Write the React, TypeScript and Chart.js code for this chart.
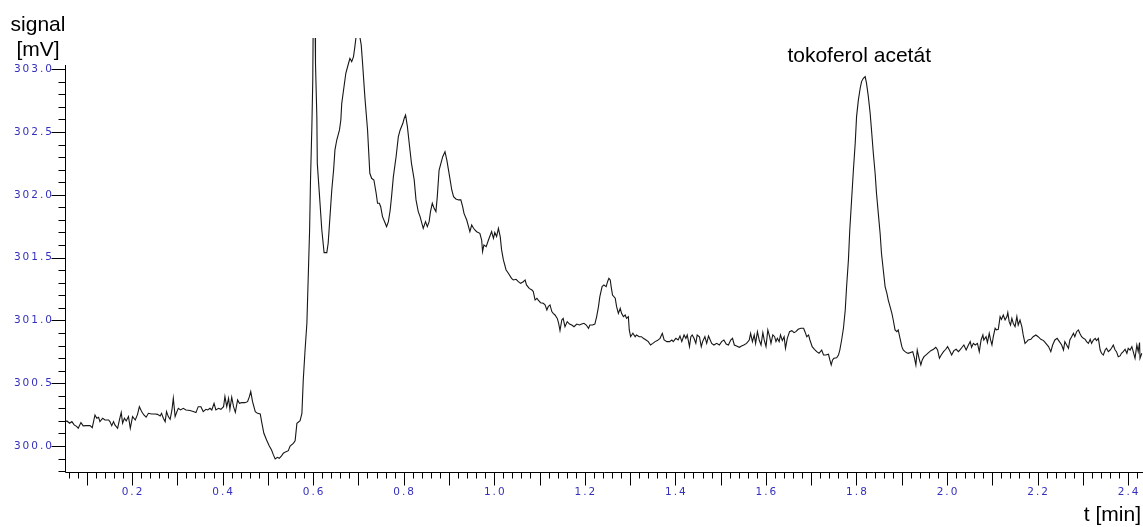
import React, { useEffect, useRef } from "react";
import { Chart, registerables } from "chart.js";

Chart.register(...registerables);

// Retention time [min] / detector signal [mV], one trace split into sections.
const baselineTrace: [number, number][] = [
  [0.050, 300.194], [0.054, 300.199], [0.060, 300.181], [0.065, 300.194], [0.070, 300.168],
  [0.076, 300.154], [0.079, 300.141], [0.085, 300.186], [0.090, 300.160], [0.096, 300.162],
  [0.105, 300.162], [0.110, 300.146], [0.116, 300.247], [0.120, 300.221], [0.124, 300.229],
  [0.127, 300.194], [0.133, 300.221], [0.138, 300.207], [0.146, 300.207], [0.149, 300.194],
  [0.153, 300.162], [0.157, 300.194], [0.160, 300.168], [0.166, 300.141], [0.170, 300.207],
  [0.174, 300.266], [0.177, 300.181], [0.181, 300.221], [0.185, 300.199], [0.190, 300.234],
  [0.194, 300.141], [0.199, 300.234], [0.205, 300.207], [0.210, 300.252], [0.214, 300.313],
  [0.219, 300.274], [0.224, 300.247], [0.229, 300.229], [0.234, 300.260], [0.241, 300.255],
  [0.249, 300.255], [0.254, 300.252], [0.260, 300.239], [0.263, 300.260], [0.267, 300.221],
  [0.271, 300.194], [0.274, 300.274], [0.278, 300.234], [0.282, 300.213], [0.286, 300.287],
  [0.289, 300.380], [0.293, 300.234], [0.297, 300.274], [0.300, 300.300], [0.305, 300.287],
  [0.311, 300.300], [0.317, 300.287], [0.326, 300.282], [0.333, 300.274], [0.339, 300.266],
  [0.344, 300.313], [0.350, 300.313], [0.355, 300.274], [0.361, 300.292], [0.365, 300.287],
  [0.370, 300.300], [0.374, 300.287], [0.379, 300.340], [0.383, 300.287], [0.389, 300.300],
  [0.394, 300.292], [0.400, 300.313], [0.403, 300.393], [0.407, 300.313], [0.411, 300.380],
  [0.414, 300.292], [0.418, 300.388], [0.422, 300.313], [0.426, 300.268], [0.431, 300.367],
  [0.435, 300.340], [0.440, 300.345], [0.447, 300.345], [0.453, 300.353], [0.457, 300.393],
  [0.460, 300.433], [0.464, 300.353], [0.470, 300.274], [0.475, 300.260], [0.481, 300.255],
  [0.484, 300.194], [0.489, 300.101], [0.495, 300.048], [0.501, 300.000], [0.506, 299.968],
  [0.510, 299.929], [0.514, 299.897], [0.519, 299.910], [0.523, 299.902], [0.528, 299.921],
  [0.532, 299.942], [0.538, 299.955], [0.543, 299.963],
];

const earlyPeaksTrace: [number, number][] = [
  [0.547, 300.000], [0.554, 300.021], [0.558, 300.042], [0.562, 300.180], [0.569, 300.202],
  [0.573, 300.260], [0.576, 300.525], [0.580, 300.764], [0.584, 300.977], [0.587, 301.348],
  [0.590, 301.720], [0.592, 302.118], [0.595, 302.542], [0.597, 302.914], [0.598, 303.400],
  [0.602, 303.400], [0.603, 303.047], [0.606, 302.622], [0.607, 302.250], [0.612, 301.985],
  [0.617, 301.720], [0.622, 301.539], [0.628, 301.539], [0.631, 301.614], [0.635, 301.826],
  [0.639, 302.038], [0.643, 302.197], [0.646, 302.357], [0.650, 302.436], [0.656, 302.516],
  [0.659, 302.595], [0.661, 302.728], [0.665, 302.834], [0.670, 302.967], [0.676, 303.047],
  [0.679, 303.086], [0.683, 303.060], [0.687, 303.100], [0.690, 303.179], [0.694, 303.300],
  [0.699, 303.300], [0.704, 303.193], [0.707, 303.047], [0.712, 302.781], [0.718, 302.516],
  [0.723, 302.171], [0.727, 302.131], [0.732, 302.118], [0.737, 302.012], [0.740, 301.932],
  [0.744, 301.932], [0.747, 301.905], [0.751, 301.826], [0.757, 301.773], [0.760, 301.746],
  [0.764, 301.786], [0.768, 301.879], [0.771, 301.985], [0.775, 302.144], [0.781, 302.303],
  [0.786, 302.463], [0.790, 302.516], [0.796, 302.569], [0.799, 302.609], [0.802, 302.635],
  [0.806, 302.542], [0.810, 302.410], [0.815, 302.250], [0.821, 302.118], [0.825, 301.959],
  [0.830, 301.866], [0.834, 301.826], [0.838, 301.773], [0.841, 301.733], [0.846, 301.786],
  [0.850, 301.746], [0.854, 301.786], [0.857, 301.866], [0.861, 301.932], [0.865, 301.892],
  [0.869, 301.866], [0.872, 301.985], [0.876, 302.197], [0.880, 302.250], [0.884, 302.303],
  [0.889, 302.343], [0.893, 302.277], [0.898, 302.171], [0.904, 302.038], [0.908, 301.985],
  [0.913, 301.967], [0.919, 301.959], [0.924, 301.959], [0.928, 301.905], [0.931, 301.852],
  [0.937, 301.799], [0.941, 301.746], [0.944, 301.706], [0.948, 301.759], [0.952, 301.733],
  [0.955, 301.720], [0.959, 301.706], [0.966, 301.693], [0.970, 301.640], [0.972, 301.547],
  [0.975, 301.600], [0.980, 301.587], [0.985, 301.640],
];

const tailTrace: [number, number][] = [
  [0.992, 301.707], [0.996, 301.653], [0.999, 301.699], [1.003, 301.667], [1.007, 301.733],
  [1.011, 301.667], [1.014, 301.561], [1.018, 301.481], [1.024, 301.401], [1.029, 301.375],
  [1.036, 301.335], [1.040, 301.322], [1.046, 301.327], [1.051, 301.308], [1.056, 301.295],
  [1.062, 301.308], [1.066, 301.322], [1.069, 301.282], [1.075, 301.255], [1.081, 301.242],
  [1.084, 301.229], [1.088, 301.162], [1.092, 301.176], [1.095, 301.162], [1.100, 301.141],
  [1.106, 301.136], [1.110, 301.123], [1.114, 301.083], [1.117, 301.109], [1.121, 301.123],
  [1.125, 301.070], [1.128, 301.056], [1.132, 301.043], [1.137, 301.016], [1.140, 300.977],
  [1.143, 300.918], [1.147, 301.003], [1.150, 301.016], [1.154, 300.950], [1.159, 300.990],
  [1.164, 300.971], [1.169, 300.963], [1.174, 300.950], [1.180, 300.971], [1.186, 300.963],
  [1.191, 300.971], [1.196, 300.977], [1.201, 300.963], [1.206, 300.937], [1.209, 300.963],
  [1.215, 300.963], [1.220, 300.971], [1.224, 301.030], [1.228, 301.109], [1.231, 301.189],
  [1.236, 301.269], [1.240, 301.282], [1.245, 301.269], [1.248, 301.308], [1.251, 301.335],
  [1.254, 301.322], [1.256, 301.269], [1.259, 301.202], [1.265, 301.176], [1.268, 301.109],
  [1.272, 301.056], [1.276, 301.096], [1.279, 301.056], [1.283, 301.030], [1.287, 301.043],
  [1.290, 301.016], [1.294, 301.030], [1.296, 300.924], [1.299, 300.870], [1.304, 300.897],
  [1.309, 300.870], [1.312, 300.884], [1.318, 300.870], [1.323, 300.870], [1.327, 300.857],
  [1.333, 300.844], [1.338, 300.831], [1.343, 300.804], [1.348, 300.817], [1.353, 300.831],
  [1.358, 300.839], [1.364, 300.857], [1.369, 300.897], [1.373, 300.844], [1.379, 300.831],
  [1.385, 300.831], [1.390, 300.844], [1.393, 300.831], [1.399, 300.857], [1.404, 300.844],
  [1.408, 300.876], [1.412, 300.831], [1.417, 300.884], [1.421, 300.857], [1.424, 300.884],
  [1.429, 300.791], [1.432, 300.870], [1.435, 300.884], [1.439, 300.857], [1.443, 300.817],
  [1.446, 300.884], [1.451, 300.870], [1.455, 300.791], [1.458, 300.831], [1.463, 300.870],
  [1.467, 300.817], [1.471, 300.876],
];

const tocopherolTrace: [number, number][] = [
  [1.478, 300.817], [1.483, 300.804], [1.489, 300.817], [1.495, 300.804], [1.500, 300.831],
  [1.505, 300.844], [1.510, 300.812], [1.515, 300.804], [1.520, 300.844], [1.524, 300.857],
  [1.528, 300.804], [1.533, 300.796], [1.539, 300.786], [1.544, 300.796], [1.549, 300.804],
  [1.555, 300.817], [1.561, 300.844], [1.564, 300.897], [1.568, 300.831], [1.572, 300.884],
  [1.575, 300.817], [1.579, 300.910], [1.583, 300.844], [1.587, 300.804], [1.591, 300.902],
  [1.594, 300.844], [1.598, 300.791], [1.602, 300.924], [1.606, 300.870], [1.609, 300.817],
  [1.613, 300.884], [1.617, 300.870], [1.620, 300.831], [1.623, 300.857], [1.627, 300.831],
  [1.630, 300.884], [1.634, 300.839], [1.638, 300.870], [1.641, 300.778], [1.645, 300.857],
  [1.650, 300.910], [1.655, 300.918], [1.660, 300.902], [1.664, 300.910], [1.669, 300.929],
  [1.675, 300.937], [1.681, 300.937], [1.684, 300.910], [1.688, 300.870], [1.692, 300.884],
  [1.695, 300.844], [1.700, 300.791], [1.705, 300.770], [1.710, 300.751], [1.715, 300.738],
  [1.721, 300.764], [1.725, 300.724], [1.730, 300.724], [1.736, 300.730], [1.739, 300.685],
  [1.742, 300.645], [1.745, 300.685], [1.748, 300.698], [1.754, 300.703], [1.758, 300.724],
  [1.761, 300.764], [1.765, 300.844], [1.769, 300.937], [1.773, 301.083], [1.776, 301.269],
  [1.780, 301.481], [1.783, 301.720], [1.787, 301.959], [1.791, 302.197], [1.795, 302.410],
  [1.798, 302.622], [1.802, 302.755], [1.806, 302.848], [1.809, 302.901], [1.813, 302.927],
  [1.817, 302.941], [1.820, 302.887], [1.824, 302.781], [1.828, 302.649], [1.831, 302.516],
  [1.835, 302.330], [1.839, 302.171], [1.842, 302.012], [1.846, 301.852], [1.850, 301.693],
  [1.853, 301.534], [1.857, 301.401], [1.861, 301.269], [1.865, 301.215], [1.868, 301.162],
  [1.872, 301.109], [1.876, 301.056], [1.879, 301.003], [1.883, 300.924], [1.887, 300.910],
  [1.890, 300.924], [1.894, 300.857], [1.898, 300.791], [1.901, 300.764], [1.905, 300.751],
  [1.909, 300.743], [1.912, 300.738],
];

const lateBaselineTrace: [number, number][] = [
  [1.922, 300.751], [1.926, 300.698], [1.929, 300.645], [1.932, 300.764], [1.936, 300.698],
  [1.940, 300.645], [1.943, 300.685], [1.947, 300.711], [1.951, 300.724], [1.957, 300.743],
  [1.962, 300.759], [1.968, 300.770], [1.973, 300.786], [1.977, 300.764], [1.981, 300.698],
  [1.985, 300.724], [1.990, 300.751], [1.995, 300.770], [1.999, 300.791], [2.003, 300.764],
  [2.008, 300.724], [2.013, 300.759], [2.018, 300.770], [2.023, 300.751], [2.026, 300.764],
  [2.031, 300.786], [2.035, 300.804], [2.040, 300.764], [2.045, 300.804], [2.049, 300.831],
  [2.052, 300.786], [2.056, 300.817], [2.060, 300.804], [2.065, 300.817], [2.069, 300.751],
  [2.073, 300.844], [2.077, 300.884], [2.079, 300.844], [2.084, 300.870], [2.087, 300.823],
  [2.091, 300.897], [2.094, 300.844], [2.097, 300.804], [2.100, 300.870], [2.104, 300.937],
  [2.107, 300.924], [2.111, 300.929], [2.115, 301.030], [2.118, 301.008], [2.122, 301.043],
  [2.126, 301.003], [2.130, 301.030], [2.132, 301.062], [2.135, 300.990], [2.138, 300.963],
  [2.141, 301.016], [2.144, 300.977], [2.148, 300.950], [2.152, 301.030], [2.155, 300.963],
  [2.159, 301.003], [2.163, 300.950], [2.166, 300.884], [2.170, 300.817], [2.174, 300.831],
  [2.177, 300.844], [2.183, 300.849], [2.188, 300.870], [2.194, 300.884], [2.199, 300.870],
  [2.205, 300.849], [2.211, 300.839], [2.216, 300.817], [2.222, 300.791], [2.227, 300.751],
  [2.231, 300.804], [2.236, 300.844], [2.241, 300.857], [2.246, 300.831], [2.251, 300.804],
  [2.255, 300.764], [2.258, 300.831], [2.262, 300.804], [2.266, 300.778], [2.269, 300.844],
  [2.273, 300.870], [2.277, 300.897], [2.280, 300.870], [2.284, 300.910], [2.288, 300.924],
  [2.291, 300.897], [2.295, 300.870], [2.299, 300.857], [2.303, 300.849], [2.306, 300.831],
  [2.310, 300.817], [2.314, 300.849], [2.317, 300.817], [2.321, 300.844], [2.325, 300.857],
  [2.328, 300.839], [2.332, 300.857], [2.336, 300.764], [2.339, 300.738], [2.343, 300.724],
  [2.347, 300.764], [2.350, 300.778], [2.354, 300.751], [2.358, 300.764], [2.361, 300.778],
  [2.365, 300.804], [2.369, 300.764], [2.372, 300.751], [2.376, 300.711], [2.380, 300.717],
  [2.383, 300.738], [2.387, 300.751], [2.391, 300.770], [2.395, 300.738], [2.398, 300.778],
  [2.402, 300.764], [2.406, 300.791], [2.409, 300.751], [2.413, 300.698], [2.417, 300.804],
  [2.420, 300.751], [2.423, 300.823], [2.424, 300.698], [2.428, 300.738],
];

// Named peak annotation
const peakLabel = "tokoferol acetát";
const peakTime = 1.817;
const peakSignal = 302.941;

// Axis titles
const yTitleLines = ["signal", "[mV]"];
const xTitle = "t [min]";

// Axis ranges and tick steps
const X_MIN = 0.052;
const X_MAX = 2.4306;
const X_MINOR_STEP = 0.02;
const X_MAJOR_STEP = 0.1;
const X_LABEL_STEP = 0.2;
const Y_MIN = 299.785;
const Y_MAX = 303.248;
const Y_MINOR_STEP = 0.1;
const Y_LABEL_STEP = 0.5;
const Y_TICK_TOP = 303.0;
const Y_AXIS_TOP = 303.03;

const TICK_LABEL_COLOR = "#3430bd";
const TICK_FONT = { family: "'DejaVu Sans', Verdana, sans-serif", size: 10.5 };
const TICK_LETTER_SPACING = "2px";
const TITLE_FONT = "21px 'Liberation Sans', Arial, sans-serif";

const onStep = (v: number, step: number) =>
  Math.abs(v / step - Math.round(v / step)) < 1e-6;

const trace = [
  ...baselineTrace,
  ...earlyPeaksTrace,
  ...tailTrace,
  ...tocopherolTrace,
  ...lateBaselineTrace,
].map(([x, y]) => ({ x, y }));

// Ticks are built on round multiples of the step; afterwards the visible
// range is put back to the exact window of the plot.
const keepRange = (min: number, max: number) => (scale: any) => {
  scale.min = min;
  scale.max = max;
};

// Fixed axis thickness, and no extra edge padding reserved for labels.
const fixSize = (size: number) => (scale: any) => {
  if (scale.isHorizontal()) scale.height = size;
  else scale.width = size;
  scale.paddingLeft = 0;
  scale.paddingRight = 0;
  scale.paddingTop = 0;
  scale.paddingBottom = 0;
};

// Wide-spaced tick labels, hand-drawn tick marks of two lengths, axis titles.
const chromatogramFrame = {
  id: "chromatogramFrame",
  beforeDraw(chart: any) {
    chart.ctx.letterSpacing = TICK_LETTER_SPACING;
  },
  afterDraw(chart: any) {
    const { ctx, chartArea } = chart;
    const xs = chart.scales.x;
    const ys = chart.scales.y;
    ctx.save();
    ctx.letterSpacing = "0px";
    ctx.strokeStyle = "#000";
    ctx.lineWidth = 1;

    const axisX = Math.floor(chartArea.left) - 0.5;
    const axisY = Math.floor(chartArea.bottom) - 0.5;

    ctx.beginPath();
    ctx.moveTo(axisX, Math.round(ys.getPixelForValue(Y_AXIS_TOP)));
    ctx.lineTo(axisX, axisY);
    ctx.moveTo(axisX, axisY);
    ctx.lineTo(chartArea.right, axisY);

    for (const t of ys.ticks) {
      if (!onStep(t.value, Y_MINOR_STEP)) continue;
      if (t.value > Y_TICK_TOP + 1e-6 || t.value < Y_MIN) continue;
      const py = Math.round(ys.getPixelForValue(t.value)) + 0.5;
      const len = onStep(t.value, Y_LABEL_STEP) ? 14 : 7;
      ctx.moveTo(axisX - len, py);
      ctx.lineTo(axisX, py);
    }
    for (const t of xs.ticks) {
      if (!onStep(t.value, X_MINOR_STEP)) continue;
      if (t.value < X_MIN || t.value > X_MAX) continue;
      const px = Math.round(xs.getPixelForValue(t.value)) - 0.5;
      const len = onStep(t.value, X_MAJOR_STEP) ? 13 : 6;
      ctx.moveTo(px, axisY);
      ctx.lineTo(px, axisY + len);
    }
    ctx.stroke();

    ctx.fillStyle = "#000";
    ctx.font = TITLE_FONT;
    ctx.textBaseline = "alphabetic";
    ctx.textAlign = "center";
    ctx.fillText(yTitleLines[0], 38, 31);
    ctx.fillText(yTitleLines[1], 38, 56);
    ctx.textAlign = "right";
    ctx.fillText(xTitle, chart.width - 2, 521);

    const lx = xs.getPixelForValue(peakTime) - 6;
    const ly = ys.getPixelForValue(peakSignal) - 15;
    ctx.textAlign = "center";
    ctx.fillText(peakLabel, lx, ly);
    ctx.restore();
  },
};

export default function App() {
  const canvasRef = useRef<HTMLCanvasElement | null>(null);

  useEffect(() => {
    const canvas = canvasRef.current;
    if (!canvas) return;
    const chart = new Chart(canvas, {
      type: "line",
      data: {
        datasets: [
          {
            data: trace,
            borderColor: "#161616",
            borderWidth: 1.1,
            pointRadius: 0,
            tension: 0,
            fill: false,
          },
        ],
      },
      options: {
        animation: false,
        responsive: false,
        devicePixelRatio: 1,
        layout: { padding: { top: 38, left: 0, right: 0, bottom: 0 } },
        plugins: {
          legend: { display: false },
          title: { display: false },
          tooltip: { enabled: false },
        },
        events: [],
        scales: {
          x: {
            type: "linear",
            min: X_MIN,
            max: X_MAX,
            bounds: "ticks",
            grid: { display: false, drawTicks: false },
            border: { display: false },
            afterBuildTicks: keepRange(X_MIN, X_MAX),
            afterFit: fixSize(54),
            ticks: {
              stepSize: X_MINOR_STEP,
              includeBounds: false,
              autoSkip: false,
              maxRotation: 0,
              minRotation: 0,
              padding: 13,
              color: TICK_LABEL_COLOR,
              font: TICK_FONT,
              callback: (v: any) => {
                const n = Number(v);
                return onStep(n, X_LABEL_STEP) ? n.toFixed(1) : "";
              },
            },
          },
          y: {
            type: "linear",
            min: Y_MIN,
            max: Y_MAX,
            bounds: "ticks",
            grid: { display: false, drawTicks: false },
            border: { display: false },
            afterBuildTicks: keepRange(Y_MIN, Y_MAX),
            afterFit: fixSize(66),
            ticks: {
              stepSize: Y_MINOR_STEP,
              includeBounds: false,
              autoSkip: false,
              padding: 12,
              color: TICK_LABEL_COLOR,
              font: TICK_FONT,
              callback: (v: any) => {
                const n = Number(v);
                if (n > Y_TICK_TOP + 1e-6) return "";
                return onStep(n, Y_LABEL_STEP) ? n.toFixed(1) : "";
              },
            },
          },
        },
      },
      plugins: [chromatogramFrame],
    } as any);
    return () => chart.destroy();
  }, []);

  return (
    <div
      style={{
        position: "fixed",
        left: 0,
        top: 0,
        width: 1143,
        height: 527,
        background: "#fff",
      }}
    >
      <canvas
        ref={canvasRef}
        width={1143}
        height={527}
        style={{ display: "block", width: 1143, height: 527 }}
      />
    </div>
  );
}
